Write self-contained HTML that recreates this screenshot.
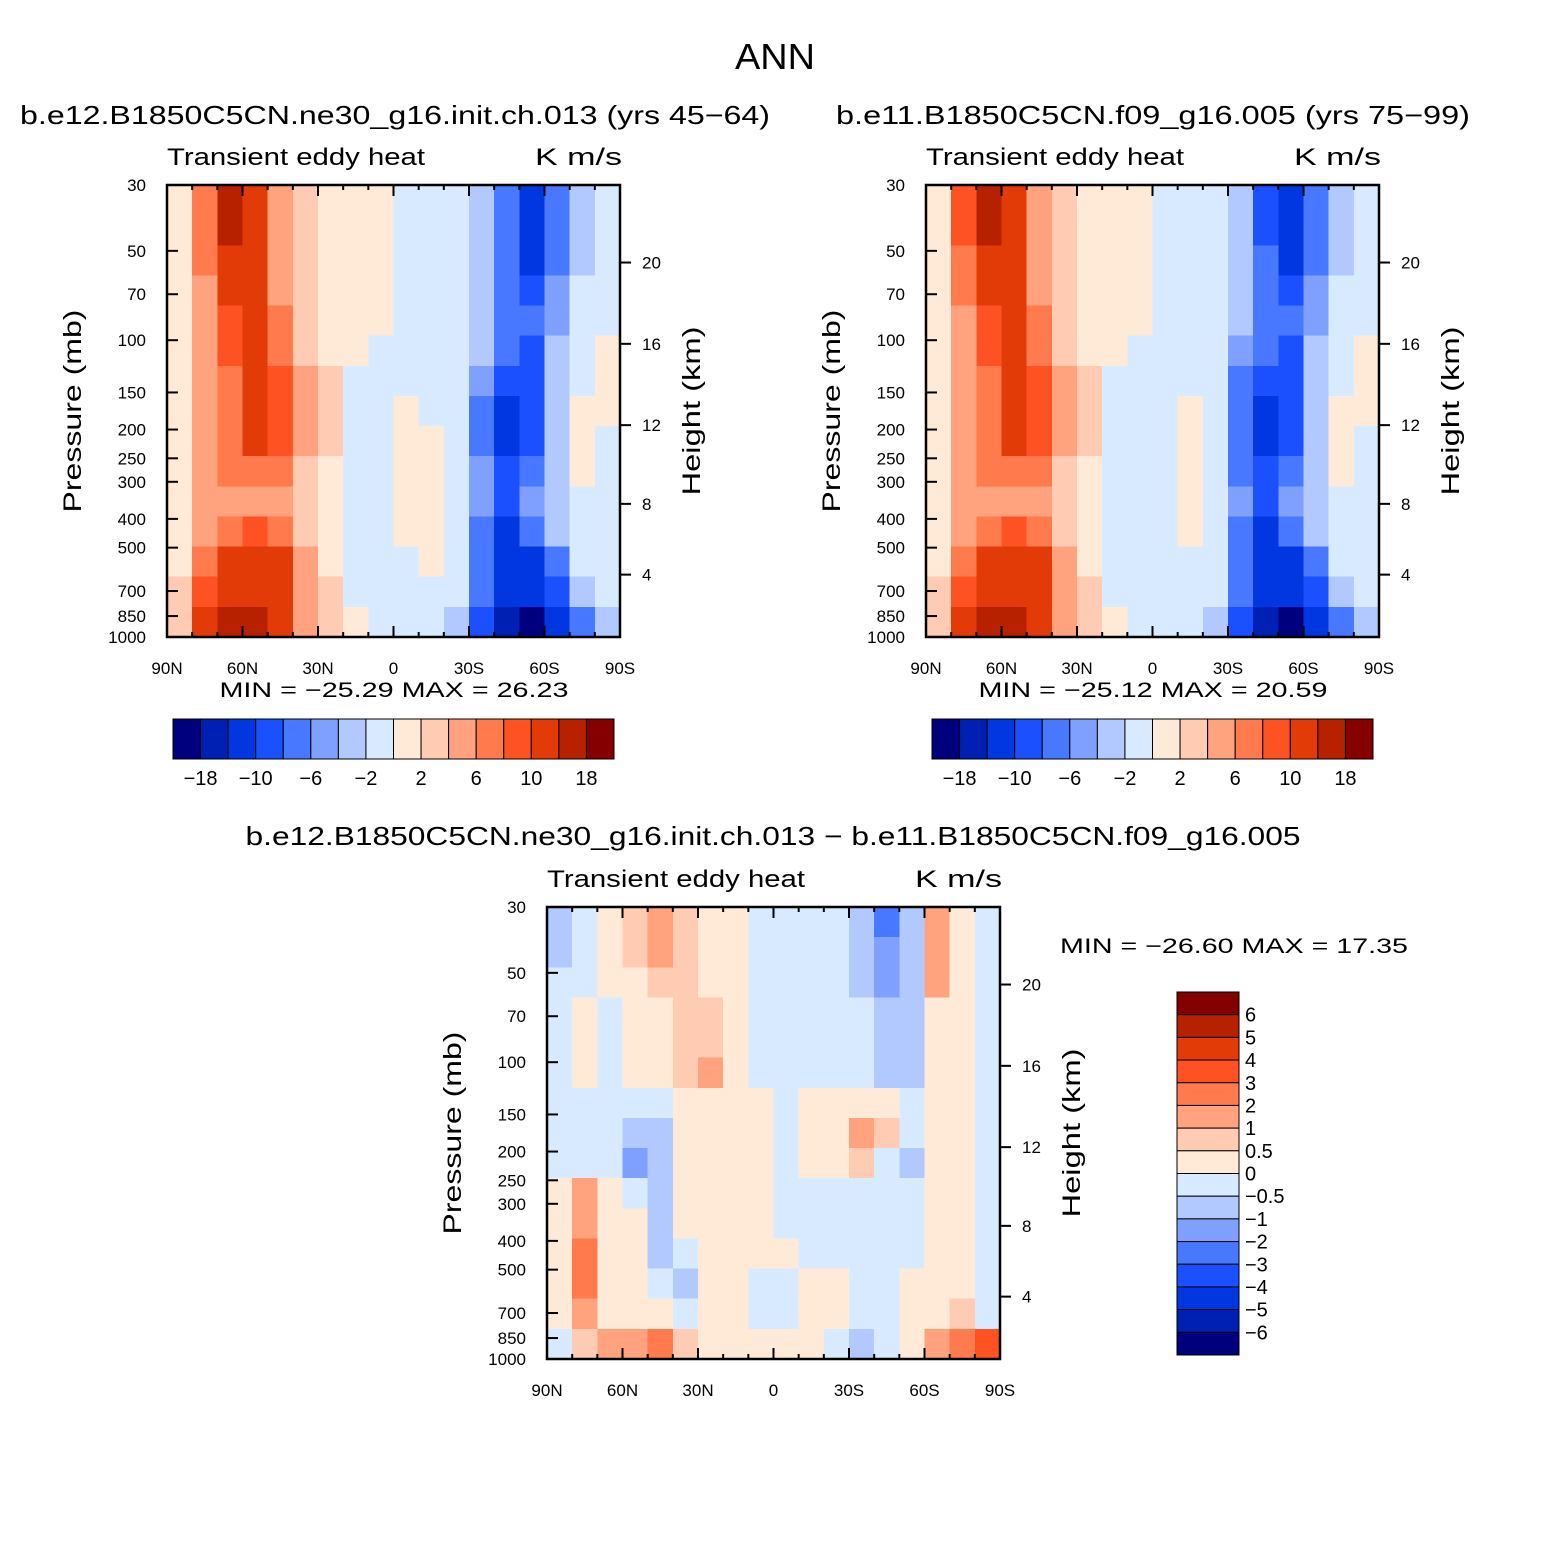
<!DOCTYPE html>
<html><head><meta charset="utf-8"><style>
body{margin:0;background:#fff}
svg text{font-family:"Liberation Sans",sans-serif;fill:#000}
</style></head><body>
<svg id="s" width="1547" height="1544" viewBox="0 0 1547 1544" xmlns="http://www.w3.org/2000/svg">
<text x="775" y="69" font-size="36" text-anchor="middle" textLength="80" lengthAdjust="spacingAndGlyphs">ANN</text>
<text x="395" y="124" font-size="26" text-anchor="middle" textLength="750" lengthAdjust="spacingAndGlyphs">b.e12.B1850C5CN.ne30_g16.init.ch.013 (yrs 45−64)</text>
<text x="1153" y="124" font-size="26" text-anchor="middle" textLength="634" lengthAdjust="spacingAndGlyphs">b.e11.B1850C5CN.f09_g16.005 (yrs 75−99)</text>
<text x="773" y="845" font-size="26" text-anchor="middle" textLength="1055" lengthAdjust="spacingAndGlyphs">b.e12.B1850C5CN.ne30_g16.init.ch.013 − b.e11.B1850C5CN.f09_g16.005</text>
<g id="g1"></g><g id="g2"></g><g id="g3"></g>
</svg>
<script>
const latLabels=["90N","60N","30N","0","30S","60S","90S"];
const pLabels=[30,50,70,100,150,200,250,300,400,500,700,850,1000];
const hLabels=[20,16,12,8,4];
const levelsA=[-18,-14,-10,-8,-6,-4,-2,0,2,4,6,8,10,14,18];
const cbLabelsA=["−18","−10","−6","−2","2","6","10","18"];
const levelsD=[-6,-5,-4,-3,-2,-1,-0.5,0,0.5,1,2,3,4,5,6];
const cbLabelsD=["−6","−5","−4","−3","−2","−1","−0.5","0","0.5","1","2","3","4","5","6"];
const colors=["#00007f","#0020b4","#0037e0","#1a50ff","#4778ff","#7fa0ff","#b2c9ff","#d8eaff","#ffead8","#ffcbb2","#ffa27d","#ff7b4d","#ff5222","#e33b08","#b82100","#850000"];
const dataA=[
[1,7,15,12,5,3,1,1,1,-1,-1,-1,-4,-8,-12,-7,-3,-1],
[1,7,15,12,5,3,1,1,1,-1,-1,-1,-4,-8,-12,-7,-3,-1],
[1,6,13,12,5,3,1,1,1,-1,-1,-1,-4,-8,-11,-7,-3,-1],
[1,5,11,11,5,3,1,1,1,-1,-1,-1,-4,-8,-9,-6,-2,-1],
[1,4,9,10,6,3,1.5,1,1,-1,-1,-1,-4,-8,-8,-5,-1,-1],
[1,4,8,10,7,3,1.5,1,-0.5,-1,-1,-2,-4,-8,-9,-4,-1,1],
[1,4,7,11,9,4,2,-0.5,-0.5,-1,-1,-2,-6,-10,-10,-3,-1,1],
[1,4,7,12,9,4,2,-0.5,-0.5,1,-0.5,-2,-8,-12,-10,-3,1,1],
[1,4,7,12,9,4,2,-0.5,-0.5,1,1,-2,-8,-12,-9,-3,1.5,-1],
[1,4,6,7,6,3,1.5,-0.5,-0.5,1,1,-1,-6,-10,-7,-3,1.5,-1],
[1,4,5,5,4,2,1,-0.5,-0.5,1,1,-1,-6,-10,-6,-3,-1,-1],
[1,5,7,8,7,3,1,-0.5,-0.5,1,1,-1,-7,-11,-7,-3,-1,-1],
[1,6,10,12,10,4,1.5,-0.5,-0.5,-0.5,1,-1,-8,-14,-12,-7,-2,-1],
[2,8,12,13,11,5,2,-0.5,-0.5,-0.5,-0.5,-2,-8,-14,-14,-9,-4,-1],
[3,10,14,15,12,5,2,1,-0.5,-0.5,-1,-3,-9,-15,-19,-14,-8,-3]];
const dataB=[
[1,8,15,12,5,3,1,1,1,-1,-1,-1,-4,-9,-12,-7,-3,-1],
[1,8,15,12,5,3,1,1,1,-1,-1,-1,-4,-9,-12,-7,-3,-1],
[1,7,13,12,5,3,1,1,1,-1,-1,-1,-4,-8,-11,-7,-3,-1],
[1,6,11,11,5,3,1,1,1,-1,-1,-1,-4,-8,-9,-6,-2,-1],
[1,5,9,10,6,3,1.5,1,1,-1,-1,-1,-4,-8,-8,-5,-1,-1],
[1,4,8,10,7,3,1.5,1,-0.5,-1,-1,-2,-5,-8,-9,-4,-1,1],
[1,4,7,11,9,4,2,-0.5,-0.5,-1,-1,-2,-7,-10,-10,-3,-1,1],
[1,4,7,12,9,4,2,-0.5,-0.5,-0.5,1,-2,-8,-12,-10,-3,1,1],
[1,4,7,12,9,4,2,-0.5,-0.5,-0.5,1,-2,-8,-12,-9,-3,1.5,-1],
[1,4,6,7,6,3,1.5,-0.5,-0.5,-0.5,1,-1,-7,-10,-7,-3,1.5,-1],
[1,4,5,5,4,2,1,-0.5,-0.5,-0.5,1,-1,-6,-9,-6,-3,-1,-1],
[1,5,7,8,7,3,1,-0.5,-0.5,-0.5,1,-1,-7,-11,-7,-3,-1,-1],
[1,6,10,12,10,4,1.5,-0.5,-0.5,-0.5,-0.5,-1,-8,-13,-12,-7,-2,-1],
[2,8,12,13,11,5,2,-0.5,-0.5,-0.5,-0.5,-2,-8,-14,-14,-9,-4,-1],
[3,10,14,15,12,5,2,1,-0.5,-0.5,-1,-3,-9,-15,-19,-14,-8,-3]];
const dataD=[
[-1,-0.3,0.3,0.8,1.5,0.5,0.3,0.3,-0.3,-0.3,-0.3,-0.3,-1,-3,-1,1.5,0.3,-0.3],
[-1,-0.3,0.3,0.8,1,0.5,0.3,0.3,-0.3,-0.3,-0.3,-0.3,-1,-2,-1,1.5,0.3,-0.3],
[-0.3,-0.3,0.3,0.3,0.8,0.5,0.3,0.3,-0.3,-0.3,-0.3,-0.3,-1,-1.5,-1,1.5,0.3,-0.3],
[-0.3,0.3,-0.3,0.3,0.3,0.8,0.8,0.3,-0.3,-0.3,-0.3,-0.3,-0.3,-1,-1,0.3,0.3,-0.3],
[-0.3,0.3,-0.3,0.3,0.3,0.8,0.8,0.3,-0.3,-0.3,-0.3,-0.3,-0.3,-1,-1,0.3,0.3,-0.3],
[-0.3,0.3,-0.3,0.3,0.3,0.8,1,0.3,-0.3,-0.3,-0.3,-0.3,-0.3,-1,-1,0.3,0.3,-0.3],
[-0.3,-0.3,-0.3,-0.3,-0.3,0.3,0.3,0.3,0.3,-0.3,0.3,0.3,0.3,0.3,-0.3,0.3,0.3,-0.3],
[-0.3,-0.3,-0.3,-1,-1,0.3,0.3,0.3,0.3,-0.3,0.3,0.3,1,0.5,-0.3,0.3,0.3,-0.3],
[-0.3,-0.3,-0.3,-2,-1,0.3,0.3,0.3,0.3,-0.3,0.3,0.3,0.5,-0.3,-1,0.3,0.3,-0.3],
[0.3,1,0.3,-0.3,-1,0.3,0.3,0.3,0.3,-0.3,-0.3,-0.3,-0.3,-0.3,-0.3,0.3,0.3,-0.3],
[0.3,1,0.3,0.3,-1,0.3,0.3,0.3,0.3,-0.3,-0.3,-0.3,-0.3,-0.3,-0.3,0.3,0.3,-0.3],
[0.3,2,0.3,0.3,-1,-0.3,0.3,0.3,0.3,0.3,-0.3,-0.3,-0.3,-0.3,-0.3,0.3,0.3,-0.3],
[0.3,2,0.3,0.3,-0.3,-1,0.3,0.3,-0.3,-0.3,0.3,0.3,-0.3,-0.3,0.3,0.3,0.3,-0.3],
[0.3,1,0.3,0.3,0.3,-0.3,0.3,0.3,-0.3,-0.3,0.3,0.3,-0.3,-0.3,0.3,0.3,0.5,-0.3],
[-0.3,0.5,1,1,2,0.5,0.3,0.3,0.3,0.3,0.3,-0.3,-1,-0.3,0.3,1,2,3]];

const NS="http://www.w3.org/2000/svg";
function mk(parent,tag,attrs,txt){const e=document.createElementNS(NS,tag);for(const k in attrs)e.setAttribute(k,attrs[k]);if(txt!==undefined)e.textContent=txt;parent.appendChild(e);return e;}
function colorOf(v,lv){let i=0;while(i<lv.length&&v>=lv[i])i++;return colors[i];}
function pOfH(h){return h<=11?1013.25*Math.pow(1-h/44.33,5.256):226.3*Math.exp(-(h-11)/6.3416);}

function drawPanel(g,x0,y0,data,lv,pre){
  const W=453,H=452;
  const xLat=lat=>x0+(90-lat)/180*W;
  const yP=p=>y0+Math.log(p/30)/Math.log(1000/30)*H;
  const nr=data.length,nc=data[0].length;
  const cells=mk(g,'g',{'shape-rendering':'crispEdges'});
  
  
  for(let r=0;r<nr;r++){
    const pa=30*Math.pow(1000/30,r/nr),pb=30*Math.pow(1000/30,(r+1)/nr);
    for(let c=0;c<nc;c++){
      const la=90-c*180/nc,lb=90-(c+1)*180/nc;
      const rc=mk(cells,'rect',{x:xLat(la),y:yP(pa),width:xLat(lb)-xLat(la)+0.6,height:yP(pb)-yP(pa)+0.6,fill:colorOf(data[r][c],lv)});
      
      
    }
  }
  const fr=mk(g,'rect',{x:x0,y:y0,width:W,height:H,fill:'none',stroke:'#000','stroke-width':2.5});
  
  
  const ax=mk(g,'g',{stroke:'#000','stroke-width':2});
  
  
  latLabels.forEach((t,i)=>{
    const x=x0+i*W/6;
    mk(ax,'line',{x1:x,y1:y0+H,x2:x,y2:y0+H-11});
    mk(ax,'line',{x1:x,y1:y0,x2:x,y2:y0+11});
    const tx=mk(g,'text',{x:x,y:y0+H+37,'font-size':17,'text-anchor':'middle'},t);
    
    
  });
  for(let i=0;i<18;i++){const x=x0+i*W/18;mk(ax,'line',{x1:x,y1:y0+H,x2:x,y2:y0+H-5});mk(ax,'line',{x1:x,y1:y0,x2:x,y2:y0+5});}
  pLabels.forEach(p=>{
    const y=yP(p);
    mk(ax,'line',{x1:x0,y1:y,x2:x0+11,y2:y});
    const tx=mk(g,'text',{x:x0-21,y:y+6,'font-size':17,'text-anchor':'end'},String(p));
    
    
  });
  hLabels.forEach(h=>{
    const y=yP(pOfH(h));
    mk(ax,'line',{x1:x0+W,y1:y,x2:x0+W+11,y2:y});
    const tx=mk(g,'text',{x:x0+W+22,y:y+6,'font-size':17},String(h));
    
    
  });
  const t1=mk(g,'text',{x:x0,y:y0-20,'font-size':24,textLength:258,lengthAdjust:'spacingAndGlyphs'},'Transient eddy heat');
  
  
  const t2=mk(g,'text',{x:x0+W+2-87,y:y0-20,'font-size':24,textLength:87,lengthAdjust:'spacingAndGlyphs'},'K m/s');
  
  
  const yt=mk(g,'text',{x:0,y:0,'font-size':25,'text-anchor':'middle',textLength:203,lengthAdjust:'spacingAndGlyphs',transform:`translate(${x0-86},${y0+H/2}) rotate(-90)`},'Pressure (mb)');
  
  
  const ht=mk(g,'text',{x:0,y:0,'font-size':25,'text-anchor':'middle',textLength:169,lengthAdjust:'spacingAndGlyphs',transform:`translate(${x0+W+80},${y0+H/2}) rotate(-90)`},'Height (km)');
  
  
}
function hColorbar(g,x0,y0,pre,mm){
  const w=441/16;
  for(let i=0;i<16;i++){
    const r=mk(g,'rect',{x:x0+i*w,y:y0,width:w,height:40,fill:colors[i],stroke:'#000','stroke-width':1});
    
    
  }
  cbLabelsA.forEach((t,i)=>{
    const tx=mk(g,'text',{x:x0+(2*i+1)*w,y:y0+66,'font-size':20,'text-anchor':'middle'},t);
    
    
  });
  const m=mk(g,'text',{x:x0+221,y:y0-22,'font-size':21,'text-anchor':'middle',textLength:349,lengthAdjust:'spacingAndGlyphs'},mm);
  
  
}
const g1=document.getElementById('g1'),g2=document.getElementById('g2'),g3=document.getElementById('g3');
drawPanel(g1,167,185,dataA,levelsA,'panel1');
drawPanel(g2,926,185,dataB,levelsA,'panel2');
drawPanel(g3,547,907,dataD,levelsD,'panel3');
hColorbar(g1,173,719,'panel1','MIN = −25.29   MAX =  26.23');
hColorbar(g2,932,719,'panel2','MIN = −25.12   MAX =  20.59');
const h=363/16;
for(let i=0;i<16;i++){
  const r=mk(g3,'rect',{x:1177,y:992+i*h,width:62,height:h,fill:colors[15-i],stroke:'#000','stroke-width':1});
  
  
}
cbLabelsD.forEach((t,i)=>{
  const tx=mk(g3,'text',{x:1245,y:992+(15-i)*h+7,'font-size':20},t);
  
  
});
const mm3=mk(g3,'text',{x:1234,y:953,'font-size':21,'text-anchor':'middle',textLength:348,lengthAdjust:'spacingAndGlyphs'},'MIN = −26.60   MAX =  17.35');


</script>
</body></html>
